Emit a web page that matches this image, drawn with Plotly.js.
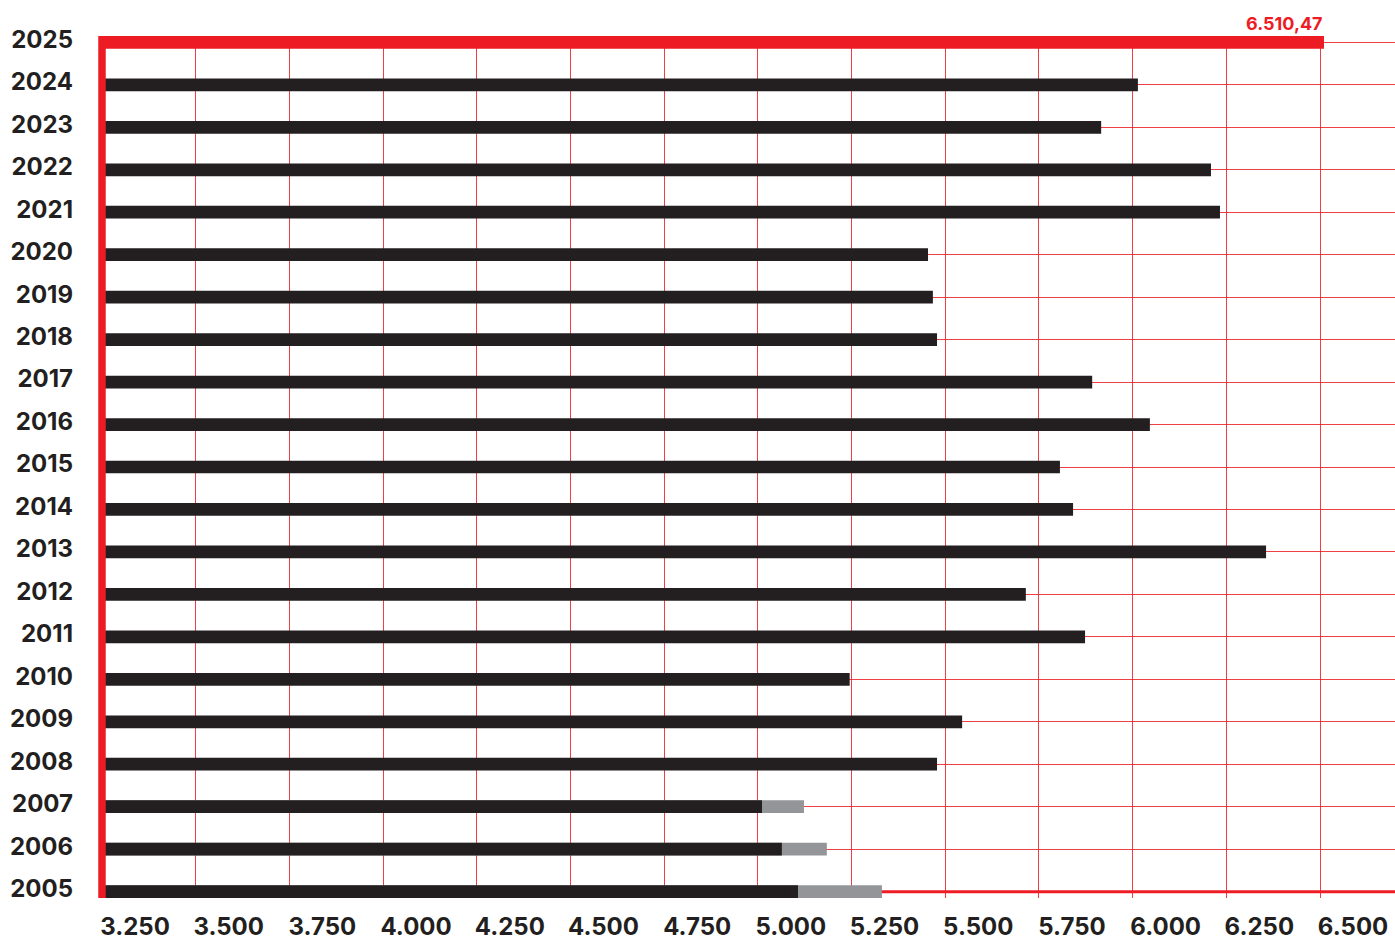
<!DOCTYPE html>
<html>
<head>
<meta charset="utf-8">
<script src="https://cdn.plot.ly/plotly-3.0.1.min.js"></script>
<style>
  html, body { margin: 0; padding: 0; background: #ffffff; }
  #chart { width: 1395px; height: 940px; }
</style>
</head>
<body>
<div id="chart"></div>
<script>
// ---- Data ----
const years = [2005, 2006, 2007, 2008, 2009, 2010, 2011, 2012, 2013, 2014,
               2015, 2016, 2017, 2018, 2019, 2020, 2021, 2022, 2023, 2024];
const values = [5107, 5064, 5011, 5478, 5545, 5245, 5873, 5715, 6356, 5841,
                5806, 6046, 5892, 5478, 5467, 5454, 6233, 6209, 5916, 6014];
const extraYears = [2005, 2006, 2007];
const extraTotals = [5331, 5184, 5123];
const latestYear = [2025];
const latestValue = [6510.47];

const AXIS_MIN = 3250;
const AXIS_MAX = 6700;
const TICK_STEP = 250;

const RED = '#ed1c24';
const BLACK = '#231f20';
const GRAY = '#939598';
const GRID = 'rgba(237,28,36,0.85)';
const FONT = 'Inter, "Liberation Sans", Arial, sans-serif';

function formatEU(v) {
  const parts = v.toFixed(2).split('.');
  const intPart = parts[0].replace(/\B(?=(\d{3})+(?!\d))/g, '.');
  return intPart + ',' + parts[1];
}

const barWidth = 0.3;
const halfBar = barWidth / 2;
const firstYear = years[0];
const lastYear = latestYear[0];

const traces = [
  {
    type: 'bar', orientation: 'h',
    y: extraYears, x: extraTotals.map(v => v - AXIS_MIN), base: AXIS_MIN,
    width: barWidth, marker: { color: GRAY, line: { width: 0 } },
    hoverinfo: 'skip'
  },
  {
    type: 'bar', orientation: 'h',
    y: years, x: values.map(v => v - AXIS_MIN), base: AXIS_MIN,
    width: barWidth, marker: { color: BLACK, line: { width: 0 } },
    hoverinfo: 'skip'
  },
  {
    type: 'bar', orientation: 'h',
    y: latestYear, x: latestValue.map(v => v - AXIS_MIN), base: AXIS_MIN,
    width: barWidth, marker: { color: RED, line: { width: 0 } },
    hoverinfo: 'skip'
  }
];

const layout = {
  width: 1395, height: 940,
  margin: { l: 102, r: 0, t: 36, b: 42, pad: 0 },
  paper_bgcolor: '#ffffff', plot_bgcolor: '#ffffff',
  showlegend: false,
  barmode: 'overlay',
  separators: ',.',
  font: { family: FONT, color: BLACK },
  xaxis: {
    range: [AXIS_MIN, AXIS_MAX],
    tick0: AXIS_MIN, dtick: TICK_STEP, tickmode: 'linear',
    tickformat: ',d',
    showgrid: true, gridcolor: GRID, gridwidth: 1,
    zeroline: false, showline: false,
    ticks: '',
    ticklabelstandoff: 12,
    ticklabelshift: 33,
    tickfont: { family: FONT, size: 24, weight: 700, color: BLACK },
    fixedrange: true
  },
  yaxis: {
    range: [firstYear - halfBar, lastYear + halfBar],
    tick0: firstYear, dtick: 1, tickmode: 'linear',
    showgrid: true, gridcolor: GRID, gridwidth: 1,
    zeroline: false, showline: false,
    ticks: '',
    ticklabelstandoff: 28,
    ticklabelshift: -3,
    tickfont: { family: FONT, size: 24, weight: 700, color: BLACK },
    fixedrange: true
  },
  shapes: [
    // white band hiding the grid below the last category line
    {
      type: 'rect', xref: 'paper', yref: 'y',
      x0: 0, x1: 1, y0: firstYear - halfBar, y1: firstYear,
      fillcolor: '#ffffff', line: { width: 0 }, layer: 'between'
    },
    // thick red baseline at the first category
    {
      type: 'line', xref: 'paper', yref: 'y',
      x0: 0, x1: 1, y0: firstYear, y1: firstYear,
      line: { color: RED, width: 3 }, layer: 'between'
    },
    // thick red left axis line
    {
      type: 'line', xref: 'paper', yref: 'paper',
      x0: 0, x1: 0, y0: 0, y1: 1,
      line: { color: RED, width: 7.5 },
      layer: 'above'
    }
  ],
  annotations: [
    {
      x: latestValue[0], y: lastYear, xref: 'x', yref: 'y',
      text: formatEU(latestValue[0]),
      showarrow: false, xanchor: 'right', yanchor: 'middle',
      yshift: 19, xshift: 1,
      font: { family: FONT, size: 18, weight: 700, color: RED }
    }
  ]
};

Plotly.newPlot('chart', traces, layout, { displayModeBar: false, staticPlot: true });
</script>
</body>
</html>
